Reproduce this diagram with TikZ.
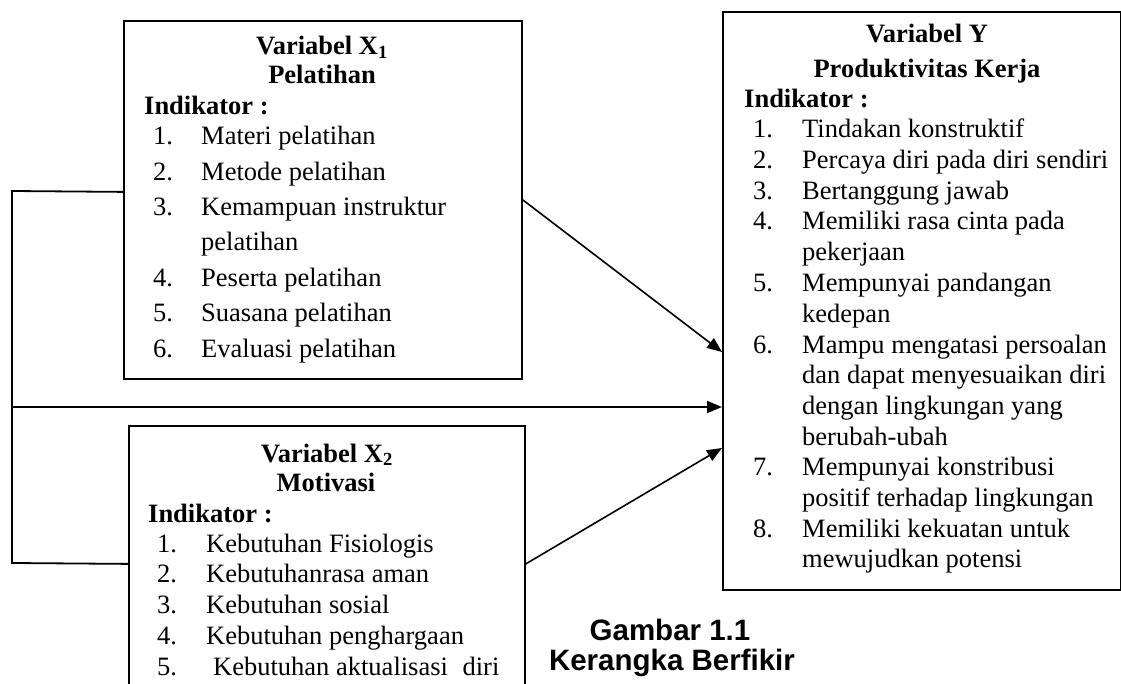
\documentclass[tikz,border=0pt]{standalone}
\usepackage{fontspec}
\setmainfont{Liberation Serif}
\newfontfamily\capfont{Liberation Sans}
\usetikzlibrary{arrows.meta,calc}
\tikzset{
  box/.style={draw, line width=1.8pt, inner sep=0pt, anchor=north west},
  txt/.style={inner sep=0pt, anchor=base west, font=\fontsize{26.5}{30}\selectfont},
  ttl/.style={inner sep=0pt, anchor=base, font=\bfseries\fontsize{26.5}{30}\selectfont},
  ind/.style={inner sep=0pt, anchor=base west, font=\bfseries\fontsize{26.5}{30}\selectfont},
  link/.style={line width=1.6pt},
  arr/.style={link, -{Triangle[length=15pt,width=12pt]}},
  capline/.style={inner sep=0pt, anchor=base, font=\capfont\bfseries\fontsize{29.5}{32}\selectfont},
}
\begin{document}
\begin{tikzpicture}[x=1pt,y=-1pt]
\useasboundingbox (0,0) rectangle (1121,684);
\clip (0,0) rectangle (1121,684);
\fill[white] (0,0) rectangle (1121,684);

% boxes
\node[box, minimum width=398pt, minimum height=358pt] (X1) at (123,20) {};
\node[box, minimum width=396pt, minimum height=276pt] (X2) at (128,425) {};
\node[box, minimum width=397.5pt, minimum height=578pt] (Y) at (722,11) {};

% X1 content
\node[ttl] (x1t) at (322,55) {Variabel X\textsubscript{1}};
\node[ttl] (x1s) at (322,84) {Pelatihan};
\node[ind] (x1i) at (144,115) {Indikator :};
\node[txt] (a1n) at (153,145) {1.};   \node[txt] (a1) at (201,145) {Materi pelatihan};
\node[txt] (a2n) at (153,180.3) {2.}; \node[txt] (a2) at (201,180.3) {Metode pelatihan};
\node[txt] (a3n) at (153,215.7) {3.}; \node[txt] (a3) at (201,215.7) {Kemampuan instruktur};
\node[txt] (a3b) at (201,251) {pelatihan};
\node[txt] (a4n) at (153,286.3) {4.}; \node[txt] (a4) at (201,286.3) {Peserta pelatihan};
\node[txt] (a5n) at (153,321.7) {5.}; \node[txt] (a5) at (201,321.7) {Suasana pelatihan};
\node[txt] (a6n) at (153,357) {6.};   \node[txt] (a6) at (201,357) {Evaluasi pelatihan};

% X2 content
\node[ttl] (x2t) at (327,462) {Variabel X\textsubscript{2}};
\node[ttl] (x2s) at (326,491) {Motivasi};
\node[ind] (x2i) at (148,522) {Indikator :};
\node[txt] (b1n) at (157,552) {1.};    \node[txt] (b1) at (206,552) {Kebutuhan Fisiologis};
\node[txt] (b2n) at (157,582.75) {2.}; \node[txt] (b2) at (206,582.75) {Kebutuhanrasa aman};
\node[txt] (b3n) at (157,613.5) {3.};  \node[txt] (b3) at (206,613.5) {Kebutuhan sosial};
\node[txt] (b4n) at (157,644.25) {4.}; \node[txt] (b4) at (206,644.25) {Kebutuhan penghargaan};
\node[txt] (b5n) at (157,675) {5.};    \node[txt] (b5) at (213,675) {Kebutuhan aktualisasi\hspace{0.3em} diri};

% Y content
\node[ttl] (yt) at (927,43) {Variabel Y};
\node[ttl] (ys) at (927,78) {Produktivitas Kerja};
\node[ind] (yi) at (744,108) {Indikator :};
\node[txt] (c1n) at (753,138) {1.};   \node[txt] (c1) at (802,138) {Tindakan konstruktif};
\node[txt] (c2n) at (753,168.7) {2.}; \node[txt] (c2) at (802,168.7) {Percaya diri pada diri sendiri};
\node[txt] (c3n) at (753,199.4) {3.}; \node[txt] (c3) at (802,199.4) {Bertanggung jawab};
\node[txt] (c4n) at (753,230) {4.};   \node[txt] (c4) at (802,230) {Memiliki rasa cinta pada};
\node[txt] (c4b) at (802,260.8) {pekerjaan};
\node[txt] (c5n) at (753,291.5) {5.}; \node[txt] (c5) at (802,291.5) {Mempunyai pandangan};
\node[txt] (c5b) at (802,322.2) {kedepan};
\node[txt] (c6n) at (753,353) {6.};   \node[txt] (c6) at (802,353) {Mampu mengatasi persoalan};
\node[txt] (c6b) at (802,383.6) {dan dapat menyesuaikan diri};
\node[txt] (c6c) at (802,414.3) {dengan lingkungan yang};
\node[txt] (c6d) at (802,445) {berubah-ubah};
\node[txt] (c7n) at (753,475.7) {7.}; \node[txt] (c7) at (802,475.7) {Mempunyai konstribusi};
\node[txt] (c7b) at (802,506.4) {positif terhadap lingkungan};
\node[txt] (c8n) at (753,537) {8.};   \node[txt] (c8) at (802,537) {Memiliki kekuatan untuk};
\node[txt] (c8b) at (802,567.8) {mewujudkan potensi};

% caption
\node[capline] (g1) at (670,640) {Gambar 1.1};
\node[capline] (g2) at (672,670) {Kerangka Berfikir};

% connectors
\coordinate (tl) at (12,191);
\coordinate (ml) at (12,407);
\coordinate (bl) at (12,563);
\draw[link, line width=1.8pt] ([yshift=8pt]X1.west) -- (tl) -- (bl) -- (X2.west);
\draw[arr] (X1.east) -- ([yshift=-341pt]Y.north west);
\draw[arr] (ml) -- ([yshift=-396pt]Y.north west);
\draw[arr] (X2.east) -- ([yshift=-437pt]Y.north west);
\end{tikzpicture}
\end{document}
